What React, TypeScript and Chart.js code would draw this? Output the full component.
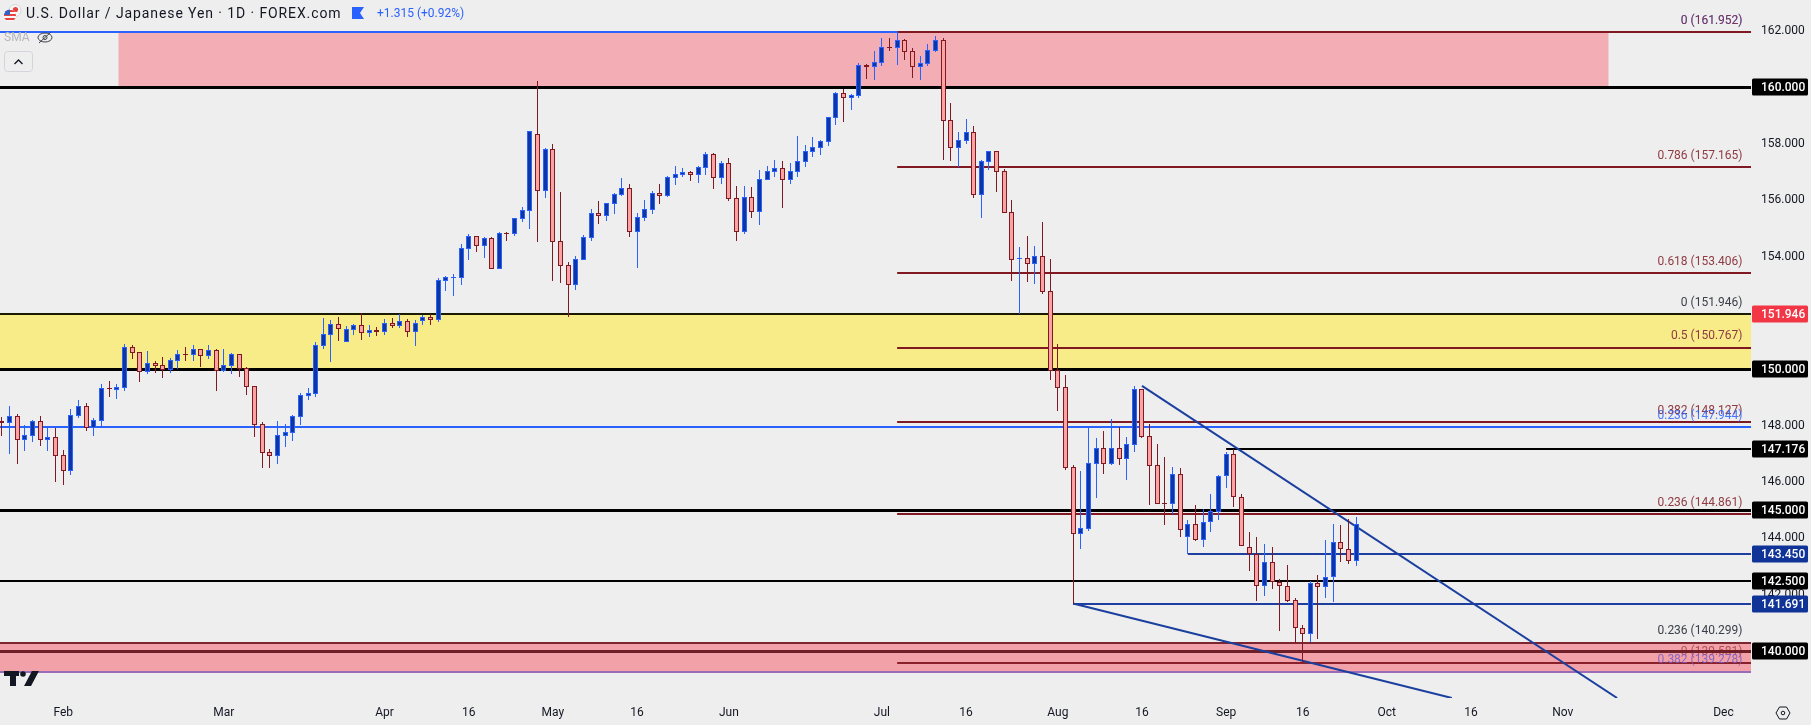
import React, { useEffect, useRef } from "react";
import { Chart, registerables } from "chart.js";

Chart.register(...registerables);

// Daily bars, index 0 = first visible session
const opens = [148.17,148.10,148.34,147.49,147.65,148.17,147.49,147.60,146.96,146.39,148.34,148.70,147.92,148.17,149.34,149.27,149.35,150.79,150.61,149.90,150.22,150.15,149.98,150.29,150.54,150.51,150.72,150.47,150.68,149.94,150.12,150.54,150.05,149.41,148.06,147.07,146.93,147.64,147.74,148.31,149.05,149.14,150.83,151.22,151.61,150.97,151.39,151.57,151.29,151.39,151.32,151.64,151.54,151.72,151.33,151.72,151.86,151.75,153.14,153.24,153.24,154.27,154.73,154.37,154.66,153.56,154.84,154.80,155.33,155.62,158.35,156.32,157.81,154.55,153.70,152.99,153.88,154.66,155.54,155.44,155.86,156.18,156.43,154.87,155.37,155.65,156.25,156.15,156.79,156.89,157.00,156.89,157.14,157.64,156.79,157.32,156.08,154.87,156.11,155.58,156.73,157.00,157.14,156.72,157.00,157.35,157.71,157.85,158.06,158.91,159.80,159.62,159.69,160.79,160.72,160.87,161.43,161.40,161.68,161.29,160.72,160.83,161.29,161.68,158.84,157.85,158.09,158.41,156.18,157.35,157.74,157.03,155.57,153.91,153.94,153.73,154.01,152.77,149.98,149.37,146.54,144.16,144.34,146.64,147.21,146.64,147.21,146.82,147.32,149.30,147.64,146.61,145.26,145.23,146.29,144.04,144.53,143.94,144.59,144.95,146.22,147.00,145.46,143.71,143.45,142.30,143.16,142.45,142.33,141.80,140.81,140.60,142.41,142.26,142.62,143.86,143.61,143.20];
const highs = [148.31,148.70,148.41,148.02,148.20,148.34,147.97,147.93,147.14,148.59,148.91,148.80,148.27,149.48,149.58,149.48,150.90,150.86,150.61,150.65,150.29,150.44,150.40,150.68,150.79,150.86,150.72,150.86,150.72,150.72,150.58,150.54,150.08,149.41,148.13,147.17,148.17,148.06,148.38,149.16,149.34,150.97,151.82,151.75,151.85,151.54,151.61,152.00,151.57,151.50,151.78,151.82,151.97,151.79,151.75,151.93,151.97,153.24,153.31,153.38,154.45,154.80,154.73,154.69,154.70,154.87,154.87,155.37,155.76,158.45,160.23,157.85,157.99,156.29,153.81,154.02,154.76,155.69,155.97,155.90,156.25,156.79,156.57,155.54,156.00,156.32,156.57,156.86,157.21,157.14,157.03,157.21,157.71,157.67,157.39,157.49,156.50,156.50,156.47,157.07,157.21,157.43,157.39,157.32,158.28,157.96,158.24,158.13,158.95,159.84,159.94,159.77,160.87,160.83,161.29,161.75,161.75,161.96,161.72,161.40,161.11,161.54,161.82,161.75,159.45,158.41,158.87,158.62,157.42,157.74,157.74,157.10,156.00,154.33,154.72,154.37,155.22,153.91,150.90,149.80,146.61,146.40,147.92,147.57,147.81,148.24,147.96,147.60,149.41,149.30,148.06,147.35,146.89,146.54,146.50,144.65,145.18,145.04,145.57,146.25,147.05,147.18,145.57,144.23,144.05,143.80,143.69,142.56,143.06,141.89,140.93,142.49,142.70,143.94,144.51,144.47,144.69,144.75];
const lows = [147.63,146.99,146.64,147.10,147.42,147.28,147.10,146.00,145.90,146.25,148.27,147.81,147.63,147.95,149.02,148.95,149.23,150.37,149.55,149.83,149.87,149.69,149.87,150.01,150.29,150.29,150.08,150.37,149.23,149.92,149.83,149.73,149.09,147.60,146.50,146.50,146.64,147.25,147.46,148.03,148.91,149.03,150.72,150.26,151.00,150.97,151.22,151.04,151.15,151.18,151.22,151.46,151.47,151.15,150.83,151.58,151.58,151.68,152.78,152.60,153.00,153.88,154.16,153.95,153.56,153.56,154.55,154.73,155.23,154.98,154.52,156.08,153.13,153.06,151.86,152.82,153.88,154.55,155.15,155.26,155.51,156.15,154.69,153.59,155.26,155.51,155.86,156.11,156.54,156.82,156.68,156.61,156.89,156.40,156.57,155.97,154.55,154.80,155.37,155.12,156.70,156.82,155.72,156.57,156.82,157.18,157.53,157.60,157.92,158.67,158.77,159.20,159.62,160.30,160.26,160.76,161.29,160.79,160.97,160.33,160.26,160.76,161.26,157.43,157.39,157.17,157.99,156.07,155.36,157.06,156.28,155.54,153.13,151.96,153.09,153.02,152.67,149.62,148.52,146.43,141.68,143.63,144.27,145.44,146.29,146.61,146.61,146.08,147.07,147.57,145.19,145.23,144.48,144.87,144.06,143.45,143.91,143.69,144.23,144.65,145.79,145.11,143.72,142.84,141.78,141.96,142.20,140.72,141.74,140.30,139.58,140.33,140.43,141.89,141.74,143.16,143.10,143.03];
const closes = [148.11,148.34,147.50,147.67,148.17,147.50,147.60,146.92,146.39,148.38,148.70,147.92,148.20,149.34,149.30,149.37,150.79,150.58,149.90,150.22,150.12,149.98,150.33,150.54,150.51,150.72,150.47,150.68,149.94,150.15,150.54,150.01,149.37,148.03,147.03,146.93,147.67,147.78,148.34,149.09,149.16,150.86,151.25,151.61,151.43,151.43,151.57,151.29,151.39,151.32,151.64,151.54,151.72,151.33,151.65,151.86,151.75,153.17,153.28,153.28,154.30,154.73,154.37,154.66,153.56,154.84,154.80,155.37,155.65,158.45,156.32,157.81,154.52,153.66,152.99,153.91,154.69,155.54,155.44,155.90,156.22,156.43,154.87,155.40,155.69,156.25,156.15,156.82,156.93,157.00,156.89,157.18,157.64,156.79,157.32,156.04,154.87,156.11,155.58,156.75,157.04,157.14,156.72,157.04,157.39,157.74,157.89,158.10,158.95,159.80,159.62,159.73,160.79,160.72,160.90,161.43,161.40,161.68,161.26,160.72,160.87,161.33,161.68,158.81,157.85,158.13,158.41,156.18,157.38,157.74,156.99,155.54,153.87,153.94,153.73,154.01,152.74,149.95,149.34,146.50,144.16,144.37,146.68,147.21,146.64,147.21,146.82,147.35,149.30,147.60,146.57,145.23,145.23,146.29,144.30,144.51,143.94,144.60,144.96,146.22,147.00,145.46,143.72,143.45,142.30,143.16,142.44,142.33,141.79,140.81,140.60,142.41,142.26,142.62,143.86,143.61,143.20,144.50];

const xMin = -0.26;
const xMax = 228.6;
const yMin = 138.34;
const yMax = 163.1;

const xTickIndex = [8, 29, 50, 61, 72, 83, 95, 115, 126, 138, 149, 160, 170, 181, 192, 204, 225];
const xTickLabel = ["Feb", "Mar", "Apr", "16", "May", "16", "Jun", "Jul", "16", "Aug", "16", "Sep", "16", "Oct", "16", "Nov", "Dec"];
const yTicks = [140, 142, 144, 146, 148, 150, 152, 154, 156, 158, 160, 162];

const fibStart = 117;
const wholeLevelsThick = [160, 150, 145];
const wholeLevelsThin = [142.5];
const fibRedLevels = [161.952, 157.165, 153.406, 150.767, 148.127, 144.861];
const firstSwingHigh = 161.952;
const blueRetrace = 147.944;
const resistance147 = 147.176;
const resistance147Start = 160;
const support143 = 143.45;
const support143Start = 155;
const support141 = 141.691;
const support141Start = 140;

const upperTrendX = [149, 211.1];
const upperTrendY = [149.41, 138.34];
const lowerTrendX = [140, 189.5];
const lowerTrendY = [141.691, 138.34];

const fibText = ["0 (161.952)", "0 (161.952)", "0.786 (157.165)", "0.618 (153.406)", "0 (151.946)", "0.5 (150.767)", "0.382 (148.127)", "0.236 (147.944)", "0.236 (144.861)", "0.236 (140.299)", "0 (139.581)", "0.382 (139.278)"];
const fibTextValue = [161.952, 161.952, 157.165, 153.406, 151.946, 150.767, 148.127, 147.944, 144.861, 140.299, 139.581, 139.278];
const fibTextColor = ["rgba(41,98,255,.75)", "rgba(128,25,34,.75)", "#8f3a42", "#8f3a42", "#3a3e48", "#8f3a42", "#8f3a42", "rgba(41,98,255,.85)", "#8f3a42", "#3a3e48", "rgba(128,25,34,.6)", "rgba(115,90,200,.85)"];

const tagValues = [160, 151.946, 150, 147.176, 145, 143.45, 142.5, 141.691, 140];
const tagColors = ["#000000", "#f23645", "#000000", "#000000", "#000000", "#0f3396", "#000000", "#0f3396", "#000000"];

const BG = "#eeeeee";
const FONT = "Roboto";
const BLUE = "#2962ff";
const DARKRED = "#801922";
const NAVY = "#1e3fa0";

const idx = opens.map((_, i) => i);
const isUp = opens.map((o, i) => closes[i] >= o);

function level(value: number, color: string, width: number, start = xMin, end = xMax, order = 5) {
  return {
    type: "line",
    data: [{ x: start, y: value }, { x: end, y: value }],
    borderColor: color,
    borderWidth: width,
    pointRadius: 0,
    fill: false,
    order,
    crisp: true,
  };
}

function zone(top: number, bottom: number, color: string, start = xMin, end = xMax) {
  return {
    type: "line",
    data: [{ x: start, y: top }, { x: end, y: top }],
    borderWidth: 0,
    borderColor: "rgba(0,0,0,0)",
    backgroundColor: color,
    pointRadius: 0,
    fill: { value: bottom },
    order: 10,
  };
}

function trend(xs: number[], ys: number[]) {
  return {
    type: "line",
    data: xs.map((x, i) => ({ x, y: ys[i] })),
    borderColor: "#1a3f9e",
    borderWidth: 2,
    pointRadius: 0,
    fill: false,
    order: 4,
  };
}

const crispPlugin = {
  id: "crisp",
  afterDatasetsUpdate(chart: any) {
    chart.data.datasets.forEach((ds: any, i: number) => {
      const meta = chart.getDatasetMeta(i);
      if (ds.candle) {
        meta.data.forEach((el: any) => {
          el.x = Math.floor(el.x) + 0.5;
          let a = Math.round(el.y);
          let b = Math.round(el.base);
          if (a === b) b = a + 1;
          el.y = a;
          el.base = b;
        });
      } else if (ds.crisp) {
        meta.data.forEach((el: any) => {
          el.y = ds.borderWidth % 2 ? Math.floor(el.y) + 0.5 : Math.round(el.y);
        });
      }
    });
  },
};

function drawIcons(ctx: CanvasRenderingContext2D) {
  // US flag roundel with JPY roundel behind it
  ctx.fillStyle = "#f7f7f7";
  ctx.beginPath(); ctx.arc(15, 10.5, 6, 0, Math.PI * 2); ctx.fill();
  ctx.strokeStyle = "#c9c9c9"; ctx.lineWidth = 0.7; ctx.stroke();
  ctx.fillStyle = "#e8413f";
  ctx.beginPath(); ctx.arc(15.5, 9.5, 2.6, 0, Math.PI * 2); ctx.fill();
  ctx.save();
  ctx.beginPath(); ctx.arc(10, 15.5, 6, 0, Math.PI * 2); ctx.clip();
  ctx.fillStyle = "#f8f8f8"; ctx.fillRect(3, 9, 14, 13);
  ctx.fillStyle = "#e8413f";
  for (let s = 0; s < 6; s += 2) ctx.fillRect(3, 10 + s * 2, 14, 2);
  ctx.fillStyle = "#2d62c4"; ctx.fillRect(3, 9, 7, 6);
  ctx.restore();
  // flag marker
  ctx.fillStyle = BLUE;
  ctx.beginPath();
  ctx.moveTo(352, 7); ctx.lineTo(364, 7); ctx.lineTo(360, 13); ctx.lineTo(364, 19); ctx.lineTo(352, 19);
  ctx.closePath(); ctx.fill();
  // hidden eye
  ctx.strokeStyle = "#3a3e48"; ctx.lineWidth = 1;
  ctx.beginPath(); ctx.ellipse(45, 37.5, 7, 4.5, 0, 0, Math.PI * 2); ctx.stroke();
  ctx.beginPath(); ctx.arc(45, 37.5, 2, 0, Math.PI * 2); ctx.stroke();
  ctx.beginPath(); ctx.moveTo(39, 43); ctx.lineTo(51, 32); ctx.stroke();
  // collapse button
  ctx.strokeStyle = "#d3d5da"; ctx.lineWidth = 1;
  ctx.beginPath(); ctx.roundRect(4.5, 51.5, 28, 20, 3); ctx.stroke();
  ctx.strokeStyle = "#131722"; ctx.lineWidth = 1.3;
  ctx.beginPath(); ctx.moveTo(14.5, 64); ctx.lineTo(18.5, 60); ctx.lineTo(22.5, 64); ctx.stroke();
  // logo
  ctx.fillStyle = "#131722";
  ctx.fillRect(4, 671, 15, 5);
  ctx.fillRect(10, 671, 6, 15);
  ctx.beginPath(); ctx.arc(23, 674, 2.8, 0, Math.PI * 2); ctx.fill();
  ctx.beginPath(); ctx.moveTo(32, 671); ctx.lineTo(39, 671); ctx.lineTo(31, 686); ctx.lineTo(24, 686); ctx.closePath(); ctx.fill();
  // settings hexagon
  ctx.strokeStyle = "#131722"; ctx.lineWidth = 1;
  ctx.beginPath();
  ctx.moveTo(1776, 713); ctx.lineTo(1779.5, 707); ctx.lineTo(1786.5, 707); ctx.lineTo(1790, 713); ctx.lineTo(1786.5, 719); ctx.lineTo(1779.5, 719);
  ctx.closePath(); ctx.stroke();
  ctx.beginPath(); ctx.arc(1783, 713, 1.8, 0, Math.PI * 2); ctx.stroke();
}

const overlayPlugin = {
  id: "overlay",
  afterDraw(chart: any) {
    const { ctx, scales } = chart;
    const y = scales.y;
    ctx.save();
    ctx.textBaseline = "middle";
    // fib labels
    ctx.font = `12px ${FONT}`;
    ctx.textAlign = "right";
    fibText.forEach((t, i) => {
      ctx.fillStyle = fibTextColor[i];
      ctx.fillText(t, 1742.5, y.getPixelForValue(fibTextValue[i]) - 11.5);
    });
    // price tags
    ctx.textAlign = "left";
    ctx.font = `500 12px ${FONT}`;
    tagValues.forEach((v, i) => {
      const py = Math.round(y.getPixelForValue(v));
      ctx.fillStyle = tagColors[i];
      ctx.beginPath();
      ctx.roundRect(1752, py - 8.5, 56, 17, 1.5);
      ctx.fill();
      ctx.fillStyle = "#ffffff";
      ctx.fillText(v.toFixed(3), 1761, py + 1);
    });
    // header
    ctx.fillStyle = "#131722";
    ctx.font = `14px ${FONT}`;
    (ctx as any).letterSpacing = "0.9px";
    ctx.fillText("U.S. Dollar / Japanese Yen · 1D · FOREX.com", 26, 14);
    (ctx as any).letterSpacing = "0px";
    ctx.fillStyle = BLUE;
    ctx.font = `12px ${FONT}`;
    ctx.fillText("+1.315 (+0.92%)", 377, 14);
    ctx.fillStyle = "#b4b6bc";
    ctx.font = `12px ${FONT}`;
    ctx.fillText("SMA", 4, 38);
    drawIcons(ctx);
    ctx.restore();
  },
};

export default function App() {
  const ref = useRef<HTMLCanvasElement>(null);

  useEffect(() => {
    document.body.style.margin = "0";
    document.body.style.background = BG;
    const datasets: any[] = [
      zone(firstSwingHigh, 160, "#f2aeb4", 15.2, 210),
      zone(151.946, 150, "#f8ec89"),
      zone(140.33, 139.23, "#f3a1a8"),
      ...wholeLevelsThick.map((v) => level(v, "#000000", 3)),
      ...wholeLevelsThin.map((v) => level(v, "#000000", 2)),
      level(151.946, "#1a1a00", 2),
      level(140, "#6e1f28", 3),
      level(140.299, "#7d2630", 2),
      level(139.581, "#8a2029", 2, fibStart),
      level(139.278, "#9a6bb8", 2),
      level(firstSwingHigh, BLUE, 2, xMin, fibStart, 3),
      ...fibRedLevels.map((v) => level(v, DARKRED, 2, fibStart)),
      level(blueRetrace, BLUE, 2),
      level(resistance147, "#000000", 2, resistance147Start),
      level(support143, NAVY, 2, support143Start),
      level(support141, NAVY, 2, support141Start),
      trend(upperTrendX, upperTrendY),
      trend(lowerTrendX, lowerTrendY),
      {
        type: "bar",
        candle: true,
        data: idx.map((i) => ({ x: i, y: [lows[i], highs[i]] })),
        backgroundColor: isUp.map((u) => (u ? BLUE : DARKRED)),
        barThickness: 1,
        grouped: false,
        order: 2,
        inflateAmount: 0,
      },
      {
        type: "bar",
        candle: true,
        data: idx.map((i) => ({ x: i, y: [Math.min(opens[i], closes[i]), Math.max(opens[i], closes[i])] })),
        backgroundColor: isUp.map((u) => (u ? "#0d35a3" : "#f9a3a3")),
        borderColor: isUp.map((u) => (u ? BLUE : DARKRED)),
        borderWidth: 1,
        borderSkipped: false,
        barThickness: 5,
        grouped: false,
        order: 1,
        inflateAmount: 0,
      },
    ];

    const chart = new Chart(ref.current as HTMLCanvasElement, {
      type: "bar",
      data: { datasets },
      plugins: [crispPlugin, overlayPlugin],
      options: {
        animation: false,
        responsive: false,
        devicePixelRatio: 1,
        layout: { padding: 0 },
        plugins: { legend: { display: false }, tooltip: { enabled: false } },
        scales: {
          x: {
            type: "linear",
            min: xMin,
            max: xMax,
            offset: false,
            bounds: "data",
            grid: { display: false, drawTicks: false },
            border: { display: false },
            afterBuildTicks: (s: any) => { s.ticks = xTickIndex.map((value) => ({ value })); },
            afterFit: (s: any) => { s.height = 27; s.paddingLeft = 0; s.paddingRight = 0; },
            ticks: {
              autoSkip: false,
              maxRotation: 0,
              padding: 8,
              color: "#131722",
              font: { family: FONT, size: 12 },
              callback: (v: any) => xTickLabel[xTickIndex.indexOf(Number(v))] ?? "",
            },
          },
          y: {
            type: "linear",
            position: "right",
            min: yMin,
            max: yMax,
            bounds: "data",
            grid: { display: false, drawTicks: false },
            border: { display: false },
            afterBuildTicks: (s: any) => { s.ticks = yTicks.map((value) => ({ value })); },
            afterFit: (s: any) => { s.width = 60; s.paddingTop = 0; s.paddingBottom = 0; },
            ticks: {
              autoSkip: false,
              padding: 10,
              color: "#131722",
              font: { family: FONT, size: 12 },
              callback: (v: any) => Number(v).toFixed(3),
            },
          },
        },
      } as any,
    } as any);
    return () => chart.destroy();
  }, []);

  return (
    <div style={{ width: 1811, height: 725, background: BG, overflow: "hidden" }}>
      <canvas ref={ref} width={1811} height={725} style={{ display: "block", width: 1811, height: 725 }} />
    </div>
  );
}
